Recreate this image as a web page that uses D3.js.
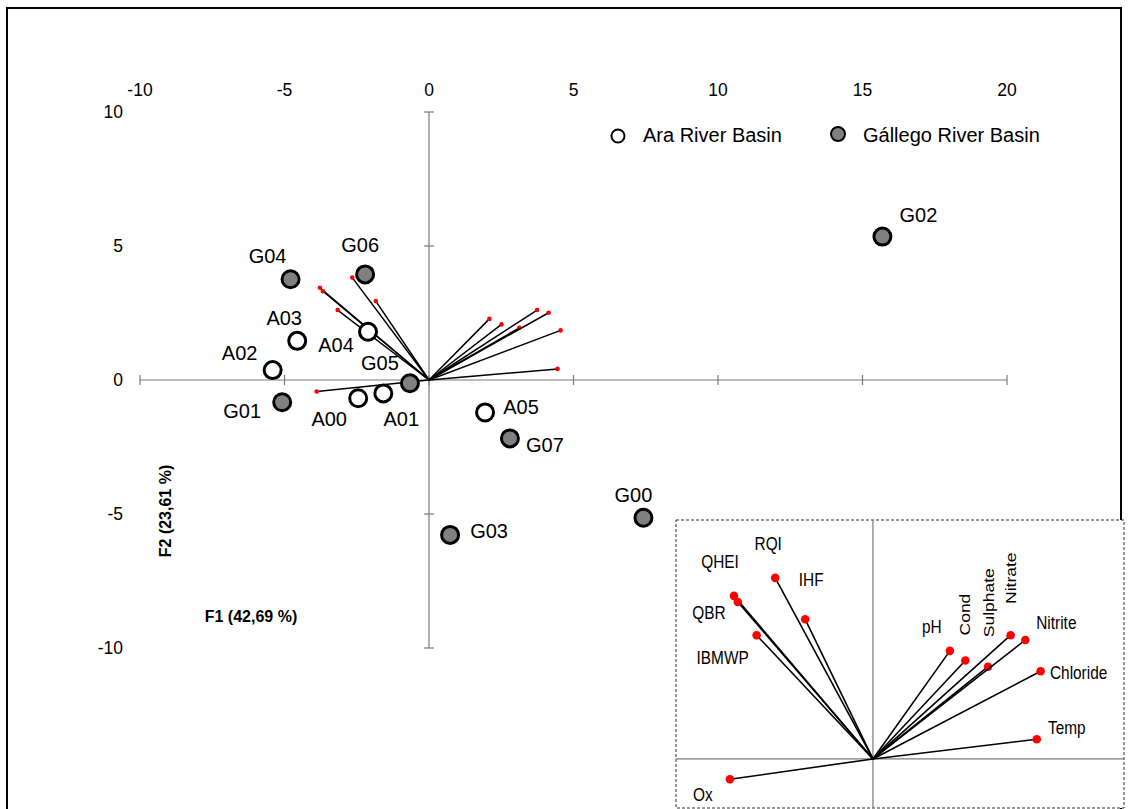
<!DOCTYPE html>
<html>
<head>
<meta charset="utf-8">
<script src="https://cdn.jsdelivr.net/npm/d3@7"></script>
<style>
  body { margin: 0; background: #fff; }
  text { font-family: "Liberation Sans", Arial, sans-serif; fill: #000; }
</style>
</head>
<body>
<svg id="chart" width="1129" height="809"></svg>
<script>
// PCA scores (F1, F2) for sampling sites
var sites = ["G02", "G04", "G06", "A03", "A04", "A02", "G05", "G01", "A00", "A01", "A05", "G07", "G00", "G03"];
var f1Scores = [15.69, -4.79, -2.21, -4.56, -2.11, -5.41, -0.66, -5.08, -2.45, -1.58, 1.94, 2.80, 7.42, 0.73];
var f2Scores = [5.35, 3.76, 3.94, 1.46, 1.80, 0.37, -0.12, -0.83, -0.68, -0.50, -1.21, -2.18, -5.14, -5.78];
var basins = ["G", "G", "G", "A", "A", "A", "G", "G", "A", "A", "A", "G", "G", "G"];

// variable loadings (correlations with F1, F2)
var variables = ["QHEI", "QBR", "IBMWP", "RQI", "IHF", "Ox", "pH", "Cond", "Sulphate", "Nitrate", "Nitrite", "Chloride", "Temp"];
var loadF1 = [-0.755, -0.734, -0.632, -0.531, -0.368, -0.777, 0.418, 0.502, 0.625, 0.748, 0.828, 0.911, 0.890];
var loadF2 = [0.688, 0.662, 0.522, 0.764, 0.589, -0.086, 0.456, 0.415, 0.389, 0.522, 0.502, 0.370, 0.083];

var xTicks = [-10, -5, 0, 5, 10, 15, 20];
var yTicks = [10, 5, 0, -5, -10];
var legendNames = ["Ara River Basin", "Gállego River Basin"];

var loadingFactor = 5; // vectors drawn in the score plot are loadings * 5

// label placement (pixels, relative to the mark)
var siteLabelOffset = {
  G02: [36, -22], G04: [-23, -23], G06: [-5, -29], A03: [-13, -23], A04: [-32, 13],
  A02: [-33, -17], G05: [-30, -20], G01: [-40, 9], A00: [-29, 21], A01: [18, 26],
  A05: [36, -5], G07: [35, 7], G00: [-10, -23], G03: [39, -4]
};
var varLabelOffset = {
  QHEI: [-14, -34], RQI: [-7, -34], IHF: [6, -40], QBR: [-29, 11], IBMWP: [-34, 22],
  Ox: [-27, 15], pH: [-18, -24], Cond: [-1, -46, 1], Sulphate: [0, -64, 1], Nitrate: [0, -57, 1],
  Nitrite: [31, -17], Chloride: [38, 1], Temp: [30, -12]
};

var svg = d3.select("#chart");

// outer frame
svg.append("rect")
  .attr("x", 7).attr("y", 8)
  .attr("width", 1114).attr("height", 840)
  .attr("fill", "none").attr("stroke", "#000").attr("stroke-width", 2);

// score plot scales
var x = d3.scaleLinear().domain([-10, 20]).range([140, 1007]);
var y = d3.scaleLinear().domain([-10, 10]).range([648, 112]);

var axisColor = "#7a7a7a";
var axes = svg.append("g").attr("class", "axes");

axes.append("line")
  .attr("x1", x(-10)).attr("x2", x(20)).attr("y1", y(0)).attr("y2", y(0))
  .attr("stroke", axisColor).attr("stroke-width", 1.2);
axes.append("line")
  .attr("x1", x(0)).attr("x2", x(0)).attr("y1", y(10)).attr("y2", y(-10))
  .attr("stroke", axisColor).attr("stroke-width", 1.2);

axes.selectAll(".xtick").data(xTicks).enter().append("line")
  .attr("x1", function (d) { return x(d); }).attr("x2", function (d) { return x(d); })
  .attr("y1", y(0) - 5).attr("y2", y(0) + 5)
  .attr("stroke", axisColor).attr("stroke-width", 1.2);
axes.selectAll(".ytick").data(yTicks).enter().append("line")
  .attr("x1", x(0) - 5).attr("x2", x(0) + 5)
  .attr("y1", function (d) { return y(d); }).attr("y2", function (d) { return y(d); })
  .attr("stroke", axisColor).attr("stroke-width", 1.2);

axes.selectAll(".xlab").data(xTicks).enter().append("text")
  .attr("x", function (d) { return x(d); })
  .attr("y", 90)
  .attr("text-anchor", "middle").attr("dominant-baseline", "central")
  .attr("font-size", 17.5)
  .text(function (d) { return d; });
axes.selectAll(".ylab").data(yTicks).enter().append("text")
  .attr("x", 123)
  .attr("y", function (d) { return y(d); })
  .attr("text-anchor", "end").attr("dominant-baseline", "central")
  .attr("font-size", 17.5)
  .text(function (d) { return d; });

// axis titles
svg.append("text")
  .attr("transform", "translate(165,511) rotate(-90)")
  .attr("text-anchor", "middle").attr("dominant-baseline", "central")
  .attr("font-size", 16).attr("font-weight", "bold")
  .text("F2 (23,61 %)");
svg.append("text")
  .attr("x", 251).attr("y", 616)
  .attr("text-anchor", "middle").attr("dominant-baseline", "central")
  .attr("font-size", 16).attr("font-weight", "bold")
  .text("F1 (42,69 %)");

// loading vectors in the score plot
var vecs = svg.append("g");
variables.forEach(function (v, i) {
  var ex = x(loadF1[i] * loadingFactor), ey = y(loadF2[i] * loadingFactor);
  vecs.append("line")
    .attr("x1", x(0)).attr("y1", y(0)).attr("x2", ex).attr("y2", ey)
    .attr("stroke", "#000").attr("stroke-width", 1.5);
  vecs.append("circle")
    .attr("cx", ex).attr("cy", ey).attr("r", 2.3).attr("fill", "#ff0000");
});

// site points
var pts = svg.append("g");
sites.forEach(function (s, i) {
  var px = x(f1Scores[i]), py = y(f2Scores[i]);
  pts.append("circle")
    .attr("cx", px).attr("cy", py).attr("r", 8.5)
    .attr("fill", basins[i] == "G" ? "#808080" : "#fff")
    .attr("stroke", "#000").attr("stroke-width", 3);
  var off = siteLabelOffset[s];
  pts.append("text")
    .attr("x", px + off[0]).attr("y", py + off[1])
    .attr("text-anchor", "middle").attr("dominant-baseline", "central")
    .attr("font-size", 20)
    .text(s);
});

// legend
var legend = svg.append("g");
var legendX = [618, 838], legendY = [136, 134];
legendNames.forEach(function (name, i) {
  legend.append("circle")
    .attr("cx", legendX[i]).attr("cy", legendY[i]).attr("r", i == 0 ? 6.5 : 7)
    .attr("fill", i == 0 ? "#fff" : "#808080")
    .attr("stroke", "#000").attr("stroke-width", 2);
  legend.append("text")
    .attr("x", legendX[i] + 25).attr("y", 135)
    .attr("dominant-baseline", "central")
    .attr("font-size", 20)
    .text(name);
});

// inset: correlation plot of the variables
var ix = d3.scaleLinear().domain([-1.07, 1.364]).range([676, 1124]);
var iy = d3.scaleLinear().domain([-0.207, 1.008]).range([808, 520]);
var inset = svg.append("g");

inset.append("rect")
  .attr("x", ix(-1.07)).attr("y", iy(1.008))
  .attr("width", ix(1.364) - ix(-1.07)).attr("height", iy(-0.207) - iy(1.008))
  .attr("fill", "#fff").attr("stroke", "#333").attr("stroke-width", 1)
  .attr("stroke-dasharray", "3,2");
inset.append("line")
  .attr("x1", ix(0)).attr("x2", ix(0)).attr("y1", iy(1.008)).attr("y2", iy(-0.207))
  .attr("stroke", axisColor).attr("stroke-width", 1.2);
inset.append("line")
  .attr("x1", ix(-1.07)).attr("x2", ix(1.364)).attr("y1", iy(0)).attr("y2", iy(0))
  .attr("stroke", axisColor).attr("stroke-width", 1.2);

variables.forEach(function (v, i) {
  var ex = ix(loadF1[i]), ey = iy(loadF2[i]);
  inset.append("line")
    .attr("x1", ix(0)).attr("y1", iy(0)).attr("x2", ex).attr("y2", ey)
    .attr("stroke", "#000").attr("stroke-width", 1.6);
  inset.append("circle")
    .attr("cx", ex).attr("cy", ey).attr("r", 4.3).attr("fill", "#ff0000");
  var off = varLabelOffset[v];
  var tr = "translate(" + (ex + off[0]) + "," + (ey + off[1]) + ")" +
    (off[2] ? " rotate(-90) scale(1,0.88)" : " scale(0.88,1)");
  inset.append("text")
    .attr("transform", tr)
    .attr("text-anchor", "middle").attr("dominant-baseline", "central")
    .attr("font-size", 17.5)
    .text(v);
});
</script>
</body>
</html>
